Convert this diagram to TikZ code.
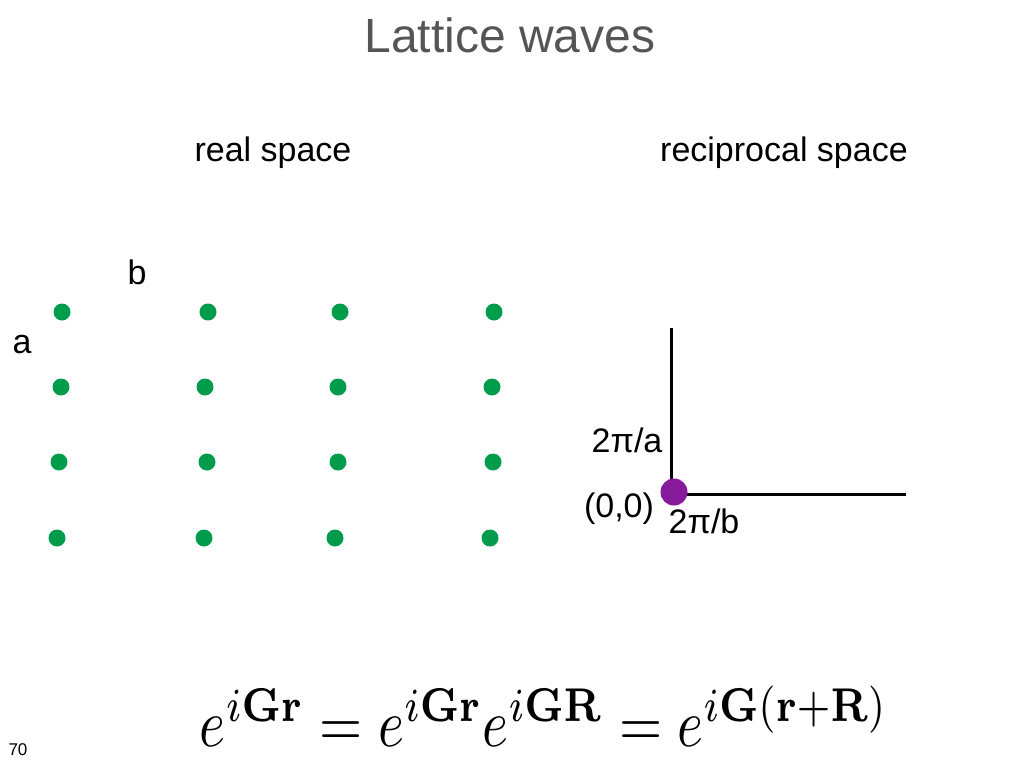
\documentclass[tikz,border=0pt]{standalone}
\usepackage[no-math]{fontspec}
\setmainfont{Liberation Sans}
\usepackage{amsmath,amssymb}
\usepackage{graphicx}
\usetikzlibrary{positioning}
\definecolor{latgreen}{RGB}{0,155,75}
\definecolor{orgpurple}{RGB}{135,25,155}
\definecolor{titlegray}{RGB}{85,85,85}

\tikzset{
  lbl/.style={inner sep=0pt, font=\fontsize{17}{20}\selectfont},
  latdot/.style={circle, fill=latgreen, inner sep=0pt, minimum size=8.5pt},
  axis/.style={line width=1.5pt}
}

\begin{document}
\begin{tikzpicture}[x=0.5pt,y=-0.5pt]
\useasboundingbox (0,0) rectangle (1024,768);

\node [inner sep=0pt, text=titlegray, font=\fontsize{24}{28}\selectfont] (title) at (510,35) {Lattice waves};

\node [lbl] (real) at (273,153) {real space};
\node [lbl] (recip) at (784,153) {reciprocal space};

% real space lattice
\node [lbl] (blab) at (137,272) {b};
\node [lbl] (alab) at (22,345) {a};
\foreach \n/\x/\y in {11/62/312, 12/208/312, 13/340/312, 14/494/312,
                      21/61/387, 22/205/387, 23/338/387, 24/492/387,
                      31/59/462, 32/207/462, 33/338/462, 34/493/462,
                      41/57/538, 42/204/538, 43/335/538, 44/490/538}
  \node [latdot] (d\n) at (\x,\y) {};

% reciprocal space
\coordinate (org) at (671,494);
\coordinate (ytop) at (671,328);
\coordinate (xend) at (906,494);
\draw [axis] (ytop) -- (org) -- (xend);
\node [circle, fill=orgpurple, inner sep=0pt, minimum size=13.5pt] (gzero) at (674,492) {};
\node [lbl] (ga) at (627,440) {2π/a};
\node [lbl] (zero) at (619,509) {(0,0)};
\node [lbl] (gb) at (704,521) {2π/b};

\node [inner sep=0pt] (eq) at (544,716) {\scalebox{1}[1.22]{\resizebox{344pt}{!}{$e^{i\mathbf{Gr}}=e^{i\mathbf{Gr}}e^{i\mathbf{GR}}=e^{i\mathbf{G}(\mathbf{r}+\mathbf{R})}$}}};

\node [inner sep=0pt, font=\fontsize{8.5}{10}\selectfont] (pg) at (18,750) {70};

\end{tikzpicture}
\end{document}
